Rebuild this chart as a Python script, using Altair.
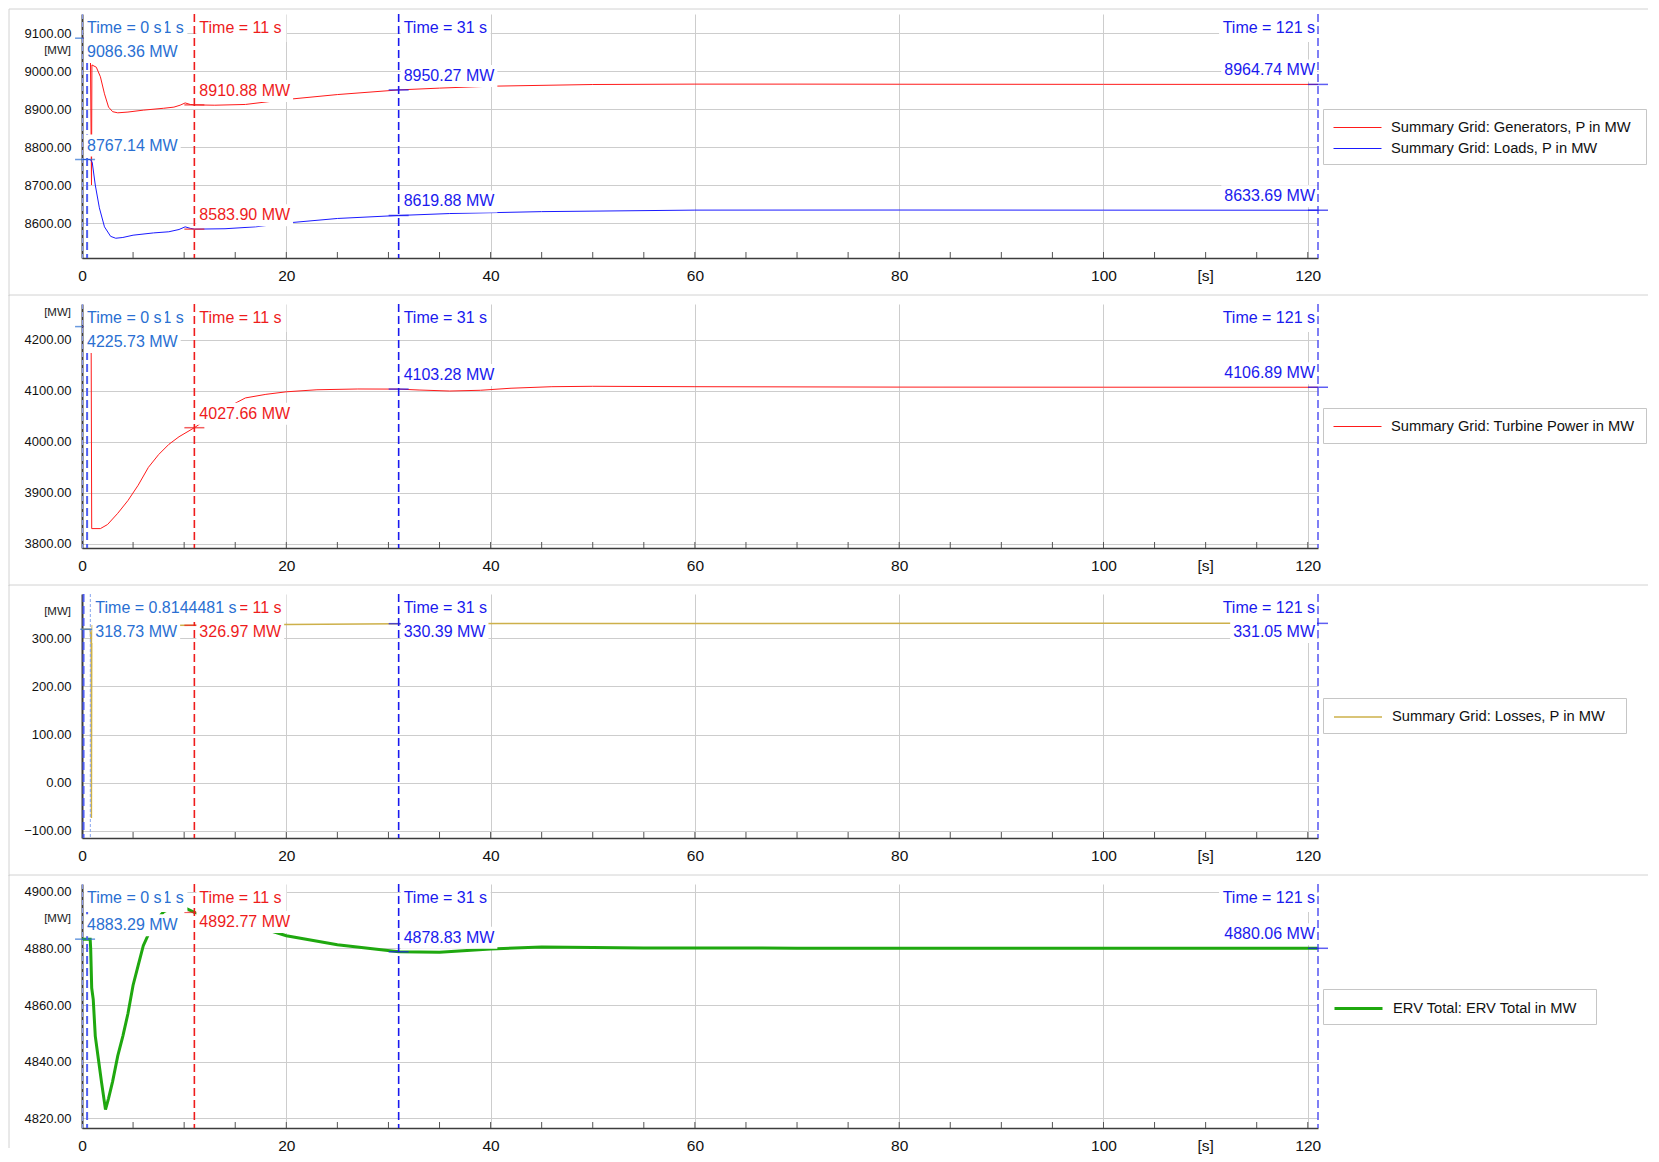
import altair as alt
import pandas as pd

FONT = "Liberation Sans"
W, H = 1236, 244
T_END = 121
PPS = W / T_END
FS = 16  # cursor label font size

# ---------------- data ----------------
# Panel 1: Summary Grid generators / loads (MW)
gen_t = [0, 0.81, 0.93, 0.97, 1.4, 1.8, 2.2, 2.6, 3.0, 3.5, 4.5, 6, 8, 9, 9.6, 10.1, 10.6, 11, 13,
         16, 20, 25, 31, 35, 40, 50, 60, 70, 80, 100, 121]
gen_p = [9086.36, 9086.36, 8700, 9016, 9010, 8985, 8940, 8905, 8893, 8890, 8892, 8897, 8902, 8905, 8910,
         8916, 8912, 8910.88, 8910, 8912, 8925, 8938, 8950.27, 8955, 8960, 8964.5, 8965.5, 8965.5, 8965.2,
         8964.9, 8964.74]
load_t = [0, 0.81, 1.0, 1.3, 1.7, 2.2, 2.8, 3.3, 4, 5, 7, 8.5, 9.5, 10.1, 10.6, 11, 14, 17, 20, 25, 31, 36,
          45, 60, 80, 100, 121]
load_p = [8767.14, 8767.14, 8760, 8700, 8640, 8590, 8565, 8560, 8562, 8568, 8574, 8577, 8583, 8590, 8586,
          8583.90, 8585, 8590, 8600, 8612, 8619.88, 8625, 8630, 8634, 8634.2, 8633.9, 8633.69]
# Panel 2: turbine power (MW)
turb_t = [0, 0.85, 0.9, 0.95, 1.8, 2.5, 3.5, 4.5, 5.5, 6.5, 7.5, 8.5, 9.5, 11, 13, 16, 18, 20, 23, 27, 31, 33,
          36, 39, 42, 46, 50, 60, 80, 100, 121]
turb_p = [4225.73, 4225.73, 4170, 3830, 3830, 3838, 3860, 3885, 3915, 3950, 3975, 3995, 4010, 4027.66, 4055,
          4086, 4093, 4098, 4102, 4103.5, 4103.28, 4101.5, 4099.5, 4101, 4105, 4108, 4108.8, 4108, 4107.2, 4107,
          4106.89]
# Panel 3: losses (MW)
loss_t = [0, 0.81, 0.9, 0.92, 0.95, 1.0, 5, 11, 20, 31, 45, 60, 121]
loss_p = [318.73, 318.73, 285, -73, 285, 326, 326.5, 326.97, 328.5, 330.39, 330.8, 331, 331.05]
# Panel 4: ERV total (MW)
erv_t = [0, 0.8, 0.85, 0.95, 1.1, 1.3, 1.6, 1.9, 2.3, 2.6, 3, 3.5, 4, 4.5, 5, 5.5, 6, 7, 8, 9, 10, 11, 13, 16,
         20, 25, 31, 35, 40, 45, 55, 70, 121]
erv_p = [4883.29, 4883.29, 4880, 4866, 4862, 4849, 4841, 4833, 4823, 4827, 4833, 4842, 4849, 4857, 4867, 4874,
         4881, 4889, 4893, 4894.5, 4894.5, 4892.77, 4891, 4889, 4884.5, 4881.3, 4878.83, 4878.7, 4879.8, 4880.5,
         4880.2, 4880.1, 4880.06]

# cursor read-outs
cursor_times = [0, 11, 31, 121]
cursor_labels = ["Time = 0 s", "Time = 11 s", "Time = 31 s", "Time = 121 s"]
p1_gen_read = [9086.36, 8910.88, 8950.27, 8964.74]
p1_load_read = [8767.14, 8583.90, 8619.88, 8633.69]
p2_read = [4225.73, 4027.66, 4103.28, 4106.89]
p3_read = [318.73, 326.97, 330.39, 331.05]
p4_read = [4883.29, 4892.77, 4878.83, 4880.06]
p3_first_time = 0.8144481
p3_first_label = "Time = 0.8144481 s"
hidden_label = "Time = 0.81 s"

x_ticks = [0, 20, 40, 60, 80, 100, 120]
x_minor = list(range(5, 121, 5))

STEEL = "#2a6fd2"
RED = "#ee1c1c"
BLUE = "#1a1aee"

_CW = {'0': .556, '1': .556, '2': .556, '3': .556, '4': .556, '5': .556, '6': .556, '7': .556, '8': .556,
       '9': .556, '.': .278, ' ': .278, 'M': .833, 'W': .944, 'T': .611, 'i': .222, 'm': .833, 'e': .556,
       '=': .584, 's': .5, '-': .333}


def tw(s, fs=FS):
    return sum(_CW.get(c, .556) for c in s) * fs


def build_panel(series, line_w, dom, yticks, unit_px, legend_y, legend_box, cursors, readouts, rules,
                remnant, sep_y, border_bottom):
    dmin, dmax = dom
    span = dmax - dmin

    def v2px(v):
        return (dmax - v) / span * H

    def px2v(px):
        return dmax - px * span / H

    xs = alt.Scale(domain=[0, T_END], nice=False, zero=False)
    ys = alt.Scale(domain=[dmin, dmax], nice=False, zero=False)
    xax = alt.Axis(values=x_ticks, title=None, grid=True, gridColor='#cdcdcd', gridWidth=1, ticks=False,
                   domainColor='#3c3c3c', domainWidth=1.5, labelFont=FONT, labelFontSize=15.5,
                   labelColor='#111111', labelPadding=10, labelFlush=False)
    yax = alt.Axis(values=yticks, format='.2f', title=None, grid=True, gridColor='#cdcdcd', gridWidth=1,
                   ticks=False, domainColor='#3c3c3c', domainWidth=2, labelFont=FONT, labelFontSize=13,
                   labelColor='#111111', labelPadding=11)

    def X(f):
        return alt.X(f, type='quantitative', scale=xs, axis=xax)

    def Y(f):
        return alt.Y(f, type='quantitative', scale=ys, axis=yax)

    rows = []
    for name, col, ts, ps in series:
        for t, p in zip(ts, ps):
            rows.append(dict(t=t, v=p, s=name))
    ldf = pd.DataFrame(rows)
    names = [s[0] for s in series]
    cols = [s[1] for s in series]

    layers = []
    # legend frame
    bw, bh = legend_box
    layers.append(alt.Chart(pd.DataFrame({'a': [0]})).mark_rect(
        fill='white', stroke='#c6c6c6', strokeWidth=1).encode(
        x=alt.value(W + 5.5), x2=alt.value(W + 5.5 + bw), y=alt.value(legend_y + 0.5),
        y2=alt.value(legend_y + 0.5 + bh)))
    # minor ticks on x axis (inward)
    layers.append(alt.Chart(pd.DataFrame({'t': x_minor})).mark_rule(color='#555555', strokeWidth=1).encode(
        x=X('t'), y=alt.value(H - 6), y2=alt.value(H)))
    layers.append(alt.Chart(ldf).mark_line(strokeWidth=line_w).encode(
        x=X('t'), y=Y('v'),
        color=alt.Color('s:N', scale=alt.Scale(domain=names, range=cols),
                        legend=alt.Legend(title=None, orient='none', legendX=W + 5, legendY=legend_y,
                                          direction='vertical', padding=10, labelFont=FONT,
                                          labelFontSize=14.7, labelColor='#111111',
                                          labelLimit=400, labelOffset=41, symbolType='M-1,0H5',
                                          symbolSize=256, symbolStrokeWidth=line_w, rowPadding=5))))
    for (t, col, dash, sw) in rules:
        layers.append(alt.Chart(pd.DataFrame({'t': [t]})).mark_rule(
            color=col, strokeDash=dash, strokeWidth=sw).encode(x=X('t')))

    texts, boxes, ticks = [], [], []

    def add_label(t, txt, col, al, lev, cy, top, bot):
        texts.append(dict(t=t, v=px2v(cy), label=txt, color=col, side=al, level=lev))
        w = tw(txt)
        if al == 'left':
            x0, x1 = t + 2 / PPS, t + (5 + w + 3) / PPS
        else:
            x0, x1 = t - (3 + w + 3) / PPS, t - 1 / PPS
        boxes.append(dict(x0=x0, x1=x1, y0=px2v(top), y1=px2v(bot), level=lev))

    if remnant:
        add_label(0, hidden_label, STEEL, 'left', 0, 14, 0, 28)
    for i, (t, lab, col, al, lev, tt) in enumerate(cursors):
        add_label(t, lab, col, al, lev, 14, 0, 28)
        for rd in readouts:
            v = rd[i]
            py = v2px(v)
            ly = py - 14 if py - 14 >= 36 else 38
            add_label(t, f"{v:.2f} MW", col, al, lev, ly, ly - 11, ly + 11)
            ticks.append(dict(t=tt, v=v, color=col))

    layers.append(alt.Chart(pd.DataFrame(ticks)).mark_tick(orient='horizontal', size=20, thickness=1.5).encode(
        x=X('t'), y=Y('v'), fill=alt.Fill('color:N', scale=None)))

    tdf = pd.DataFrame(texts)
    bdf = pd.DataFrame(boxes)
    for lev in [0, 1]:
        b = bdf[bdf['level'] == lev]
        if len(b):
            layers.append(alt.Chart(b).mark_rect(color='white').encode(
                x=X('x0'), x2='x1', y=Y('y0'), y2='y1'))
        for al in ['left', 'right']:
            d = tdf[(tdf['level'] == lev) & (tdf['side'] == al)]
            if len(d):
                layers.append(alt.Chart(d).mark_text(
                    align=al, baseline='middle', dx=(5 if al == 'left' else -3), font=FONT, fontSize=FS
                ).encode(x=X('t'), y=Y('v'), text='label:N', fill=alt.Fill('color:N', scale=None)))

    layers.append(alt.Chart(pd.DataFrame({'u': ['[MW]']})).mark_text(
        align='right', baseline='middle', font=FONT, fontSize=11.5, color='#222222').encode(
        x=alt.value(-11), y=alt.value(unit_px), text='u:N'))
    layers.append(alt.Chart(pd.DataFrame({'t': [110], 'u': ['[s]']})).mark_text(
        baseline='middle', font=FONT, fontSize=15.5, color='#111111').encode(
        x=X('t'), y=alt.value(H + 17.5), text='u:N'))
    layers.append(alt.Chart(pd.DataFrame({'a': [0]})).mark_rule(color='#d2d2d2', strokeWidth=1).encode(
        x=alt.value(-73), x2=alt.value(W + 330), y=alt.value(sep_y)))
    layers.append(alt.Chart(pd.DataFrame({'a': [0]})).mark_rule(color='#d2d2d2', strokeWidth=1).encode(
        x=alt.value(-73), y=alt.value(sep_y), y2=alt.value(border_bottom)))

    return alt.layer(*layers).properties(width=W, height=H)


def std_cursors():
    cols = [STEEL, RED, BLUE, BLUE]
    aligns = ['left', 'left', 'left', 'right']
    levels = [1, 0, 0, 0]
    tick_c = [0.3, 11, 31, 121]
    return [(cursor_times[i], cursor_labels[i], cols[i], aligns[i], levels[i], tick_c[i]) for i in range(4)]


def p3_cursors():
    c = std_cursors()
    c[0] = (p3_first_time, p3_first_label, STEEL, 'left', 1, 0.81)
    return c


rules_std = [(0.05, '#8c9be8', [5, 3], 1), (0.5, '#4f5ff2', [8, 4], 2), (11, RED, [8, 4], 1.6),
             (31, BLUE, [8, 4], 1.6), (121, '#5f5ff2', [8, 4], 1.6)]
rules_p3 = [(0.15, '#4f5ff2', [8, 4], 2), (0.8144481, '#86a4ee', [3, 2], 1), (11, RED, [8, 4], 1.6),
            (31, BLUE, [8, 4], 1.6), (121, '#5f5ff2', [8, 4], 1.6)]

p1 = build_panel([("Summary Grid: Generators, P in MW", "#ff1a1a", gen_t, gen_p),
                  ("Summary Grid: Loads, P in MW", "#1a1aff", load_t, load_p)],
                 1, (8508, 9150), [8600, 8700, 8800, 8900, 9000, 9100], 37, 95, (323, 55),
                 std_cursors(), [p1_gen_read, p1_load_read], rules_std, True, -5, H + 38)
p2 = build_panel([("Summary Grid: Turbine Power in MW", "#ff1a1a", turb_t, turb_p)],
                 1, (3792, 4270), [3800, 3900, 4000, 4100, 4200], 9, 104, (323, 35),
                 std_cursors(), [p2_read], rules_std, True, -9, H + 38)
p3 = build_panel([("Summary Grid: Losses, P in MW", "#cdb04a", loss_t, loss_p)],
                 1.5, (-114.6, 392), [-100, 0, 100, 200, 300], 18, 104, (303, 35),
                 p3_cursors(), [p3_read], rules_p3, False, -9, H + 38)
p4 = build_panel([("ERV Total: ERV Total in MW", "#1fa80f", erv_t, erv_p)],
                 3, (4816.5, 4902.8), [4820, 4840, 4860, 4880, 4900], 35, 105, (273, 35),
                 std_cursors(), [p4_read], rules_std, True, -9, H + 20)

chart = alt.vconcat(p1, p2, p3, p4, spacing=46, bounds='flush').resolve_scale(
    color='independent', y='independent').properties(
    padding={'left': 0, 'top': 0, 'right': 0, 'bottom': 0}).configure_view(stroke=None)

chart.save("out.html", embed_options={"renderer": "svg", "actions": False})
